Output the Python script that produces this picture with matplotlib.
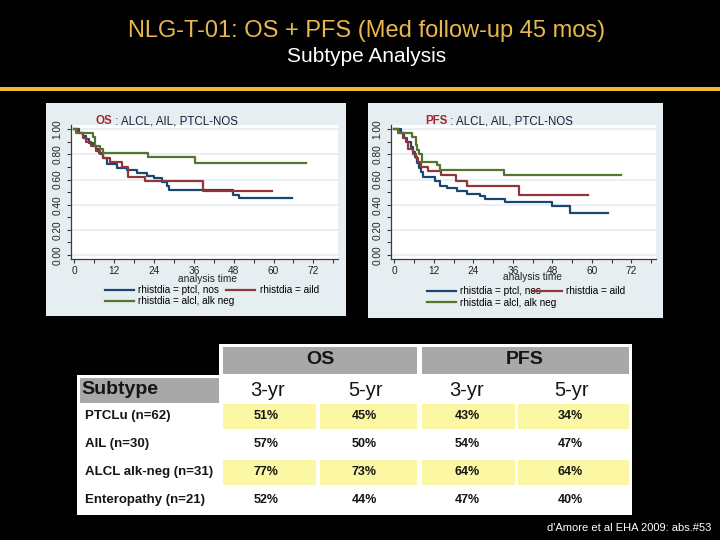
import matplotlib
matplotlib.use('Agg')
import matplotlib.pyplot as plt
from matplotlib.patches import Rectangle
from matplotlib.ticker import MultipleLocator, FormatStrFormatter

plt.rcParams['font.family'] = ['Liberation Sans', 'DejaVu Sans']

# ---- Kaplan-Meier steps (months, survival) ----
os_ptcl_t = [0, 1.5, 2.5, 3.5, 4.5, 5.5, 6.5, 7.5, 8.5, 9.7, 12.7, 16, 19, 22, 24, 26.5, 28, 28.6, 47.9, 49.5, 65.5]
os_ptcl_s = [1.0, 0.97, 0.95, 0.92, 0.89, 0.87, 0.84, 0.81, 0.77, 0.72, 0.69, 0.675, 0.655, 0.63, 0.61, 0.58, 0.55, 0.515, 0.48, 0.45, 0.45]
os_aild_t = [0, 1, 2.5, 3.5, 5, 6.5, 7.7, 8.7, 10.7, 14.3, 16.3, 21.3, 38.6, 59.4]
os_aild_s = [1.0, 0.97, 0.93, 0.90, 0.87, 0.83, 0.80, 0.77, 0.74, 0.70, 0.62, 0.59, 0.51, 0.51]
os_alcl_t = [0, 0.5, 5.7, 6.2, 7.7, 8.7, 22.3, 36.3, 69.8]
os_alcl_s = [1.0, 0.97, 0.94, 0.87, 0.84, 0.81, 0.78, 0.735, 0.735]

pfs_ptcl_t = [0, 2, 3, 4, 5, 5.7, 6.3, 7, 7.5, 8, 8.7, 12.5, 14, 16, 19, 22, 26, 27.5, 33.5, 48, 53.5, 65]
pfs_ptcl_s = [1.0, 0.97, 0.93, 0.90, 0.86, 0.82, 0.78, 0.73, 0.69, 0.66, 0.62, 0.585, 0.55, 0.53, 0.51, 0.485, 0.467, 0.446, 0.424, 0.393, 0.337, 0.337]
pfs_aild_t = [0, 1.5, 2.5, 3.5, 4.2, 5.7, 6.5, 7.2, 8, 10.3, 14.3, 18.6, 22, 38, 58.7]
pfs_aild_s = [1.0, 0.97, 0.93, 0.90, 0.84, 0.80, 0.77, 0.74, 0.70, 0.67, 0.635, 0.59, 0.55, 0.477, 0.477]
pfs_alcl_t = [0, 1, 5.5, 6.5, 7, 7.5, 8.3, 13.1, 14, 33.3, 69]
pfs_alcl_s = [1.0, 0.973, 0.94, 0.875, 0.835, 0.80, 0.743, 0.716, 0.68, 0.64, 0.64]

group_labels = ['rhistdia = ptcl, nos', 'rhistdia = aild', 'rhistdia = alcl, alk neg']

# ---- summary table ----
subtypes = ['PTCLu (n=62)', 'AIL (n=30)', 'ALCL alk-neg (n=31)', 'Enteropathy (n=21)']
os_3yr = [51, 57, 77, 52]
os_5yr = [45, 50, 73, 44]
pfs_3yr = [43, 54, 64, 47]
pfs_5yr = [34, 47, 64, 40]

W, H = 720, 540
navy, maroon, green = '#1a476f', '#90353b', '#55752f'
panel_bg = '#e7eef1'
gold = '#f0b733'

fig = plt.figure(figsize=(W / 100, H / 100), dpi=100, facecolor='black')


def box(x0, y0, x1, y1, color, z=-5):
    fig.add_artist(Rectangle((x0 / W, 1 - y1 / H), (x1 - x0) / W, (y1 - y0) / H,
                             transform=fig.transFigure, facecolor=color,
                             edgecolor='none', zorder=z))


def ftext(x, y, s, **kw):
    return fig.text(x / W, 1 - y / H, s, **kw)


# header
ftext(367, 31, 'NLG-T-01: OS + PFS (Med follow-up 45 mos)', color='#e9b84c',
      fontsize=17, ha='center', va='center')
ftext(367, 57, 'Subtype Analysis', color='white', fontsize=15, ha='center', va='center')
box(0, 87, W, 91, gold)

# chart panels
box(46, 103, 346, 316, panel_bg)
box(368, 103, 663, 318, panel_bg)

leg_kw = dict(frameon=False, fontsize=7.2, handlelength=2.9, handletextpad=0.45,
              labelspacing=0.15, borderpad=0, borderaxespad=0, loc='upper left')


def km_panel(left, right, curves, tag, title_x, xlab_pos, leg1_xy, leg2_xy):
    top, bottom = 125, 259.3
    ax = fig.add_axes([left / W, 1 - bottom / H, (right - left) / W, (bottom - top) / H])
    ax.set_facecolor('white')
    lines = []
    for (t, s), c, lab in zip(curves, [navy, maroon, green], group_labels):
        ln, = ax.step(t, s, where='post', color=c, lw=1.6, label=lab)
        lines.append(ln)
    ax.set_xlim(-1.1, 79.5)
    ax.set_ylim(-0.034, 1.034)
    ax.xaxis.set_major_locator(MultipleLocator(12))
    ax.xaxis.set_minor_locator(MultipleLocator(6))
    ax.yaxis.set_major_locator(MultipleLocator(0.2))
    ax.yaxis.set_minor_locator(MultipleLocator(0.1))
    ax.yaxis.set_major_formatter(FormatStrFormatter('%.2f'))
    ax.grid(axis='y', color=panel_bg, lw=1.3)
    ax.set_axisbelow(True)
    for side in ['top', 'right']:
        ax.spines[side].set_visible(False)
    for side in ['left', 'bottom']:
        ax.spines[side].set_color('#3a3a3a')
        ax.spines[side].set_linewidth(0.9)
    ax.tick_params(which='both', length=3, width=0.8, color='#3a3a3a',
                   labelsize=7.3, labelcolor='#222222')
    ax.tick_params(axis='x', pad=1.5)
    ax.tick_params(axis='y', labelrotation=90, pad=3)
    for lbl in ax.get_yticklabels():
        lbl.set_va('center')
    ax.set_xlabel('analysis time', fontsize=7.3, color='#222222', va='center')
    ax.xaxis.set_label_coords(*xlab_pos)

    t1 = ftext(title_x, 121, tag, color='#a0282e', fontsize=8.3, fontweight='bold',
               va='center')
    ax.annotate(' : ALCL, AIL, PTCL-NOS', xy=(1, 0.5), xycoords=t1, va='center',
                fontsize=8.3, color='#1c1c3c')

    # Stata key: ptcl over alcl on the left, aild tucked in at the right
    leg1 = ax.legend([lines[0], lines[2]], [group_labels[0], group_labels[2]],
                     bbox_to_anchor=(leg1_xy[0] / W, 1 - leg1_xy[1] / H),
                     bbox_transform=fig.transFigure, **leg_kw)
    ax.add_artist(leg1)
    ax.legend([lines[1]], [group_labels[1]],
              bbox_to_anchor=(leg2_xy[0] / W, 1 - leg2_xy[1] / H),
              bbox_transform=fig.transFigure, **leg_kw)
    return ax


km_panel(70.7, 338.3,
         [(os_ptcl_t, os_ptcl_s), (os_aild_t, os_aild_s), (os_alcl_t, os_alcl_s)],
         'OS', 95, (0.513, -0.148), (105, 285), (226, 285))
km_panel(390.7, 656,
         [(pfs_ptcl_t, pfs_ptcl_s), (pfs_aild_t, pfs_aild_s), (pfs_alcl_t, pfs_alcl_s)],
         'PFS', 425, (0.533, -0.132), (427, 286), (533, 286))

# table background
box(219, 344, 632, 515, 'white')
box(77, 375, 632, 515, 'white')
grey = '#a8a8a8'
box(223, 347, 417, 374, grey, z=-4)
box(422, 347, 629, 374, grey, z=-4)
box(80, 378, 219, 403, grey, z=-4)

col_spans = [(223, 316), (320, 417), (422, 515), (518, 629)]
row_y = [416, 444, 472, 500]
yellow = '#fbf7a2'
for i in (0, 2):
    for x0, x1 in col_spans:
        box(x0, row_y[i] - 12, x1, row_y[i] + 12.5, yellow, z=-4)

ink = '#151515'
ftext(320, 360, 'OS', fontsize=14, fontweight='bold', color=ink, ha='center', va='center')
ftext(525, 360, 'PFS', fontsize=14, fontweight='bold', color=ink, ha='center', va='center')
ftext(81, 390, 'Subtype', fontsize=14, fontweight='bold', color=ink, ha='left', va='center')
col_x = [268, 366, 467, 572]
for x, h in zip(col_x, ['3-yr', '5-yr', '3-yr', '5-yr']):
    ftext(x, 390, h, fontsize=14.5, color=ink, ha='center', va='center')

val_x = [266, 364, 467, 570]
for i, name in enumerate(subtypes):
    ftext(85, row_y[i], name, fontsize=9.5, fontweight='bold', color=ink, va='center')
    for x, col in zip(val_x, [os_3yr, os_5yr, pfs_3yr, pfs_5yr]):
        ftext(x, row_y[i], f'{col[i]}%', fontsize=9, fontweight='bold', color=ink,
              ha='center', va='center')

ftext(711, 528, "d'Amore et al EHA 2009: abs.#53", color='white', fontsize=8,
      ha='right', va='center')

fig.savefig('out.png', dpi=100, facecolor=fig.get_facecolor())
